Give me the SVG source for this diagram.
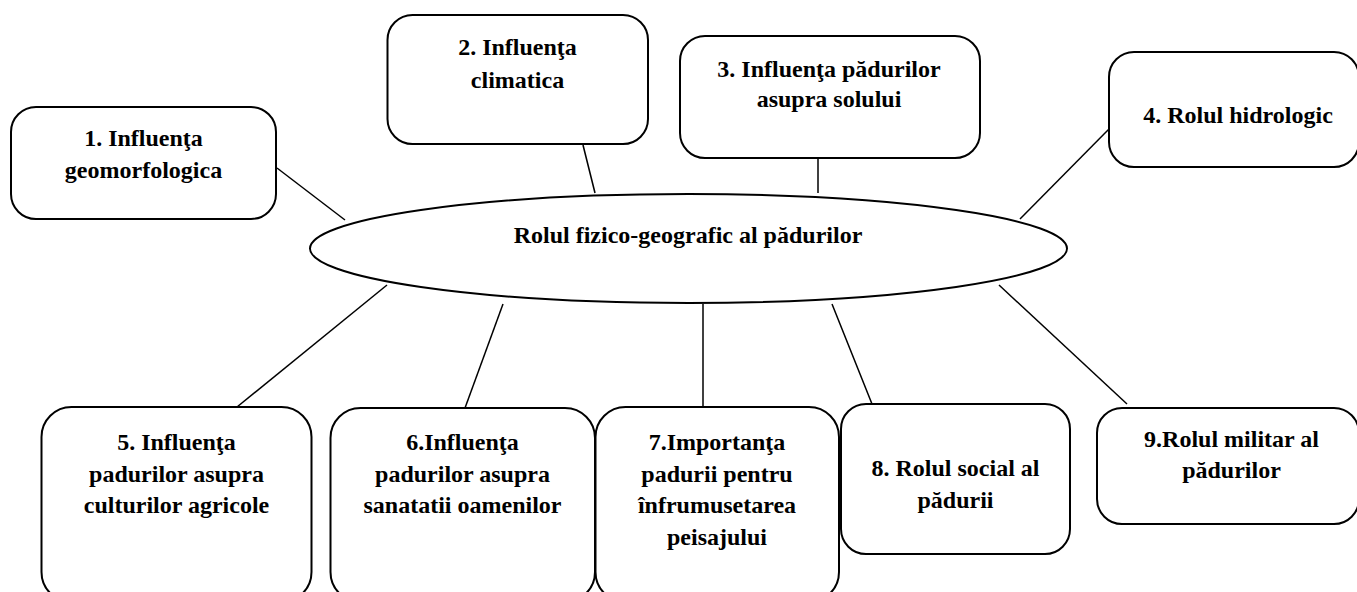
<svg xmlns="http://www.w3.org/2000/svg" width="1357" height="592" viewBox="0 0 1357 592">
<style>
.box{fill:#fff;stroke:#000;stroke-width:2}
.t{font-family:"Liberation Serif","Times New Roman",serif;font-weight:bold;font-size:24px;text-anchor:middle;fill:#000}
.c{stroke:#000;stroke-width:1.5;fill:none}
</style>
<rect width="1357" height="592" fill="#fff"/>
<g id="connectors">
<line class="c" x1="277" y1="168" x2="345" y2="220"/>
<line class="c" x1="583" y1="145" x2="595" y2="193"/>
<line class="c" x1="818" y1="159" x2="818" y2="193"/>
<line class="c" x1="1109" y1="129" x2="1020" y2="219"/>
<line class="c" x1="387" y1="285" x2="237" y2="407"/>
<line class="c" x1="503" y1="304" x2="465" y2="408"/>
<line class="c" x1="703" y1="304" x2="703" y2="407"/>
<line class="c" x1="832" y1="304" x2="872" y2="404"/>
<line class="c" x1="999" y1="285" x2="1127" y2="404"/>
</g>
<g id="center">
<ellipse class="box" cx="688.5" cy="248.5" rx="378.5" ry="54.5"/>
<text class="t" x="688" y="243">Rolul fizico-geografic al pădurilor</text>
</g>
<g id="n1">
<rect class="box" x="11" y="107" width="265" height="112" rx="25" ry="25"/>
<text class="t" x="143.5" y="146">1. Influenţa</text>
<text class="t" x="143.5" y="178">geomorfologica</text>
</g>
<g id="n2">
<rect class="box" x="387.5" y="15" width="260.5" height="129" rx="25" ry="25"/>
<text class="t" x="517.5" y="55">2. Influenţa</text>
<text class="t" x="517.5" y="88">climatica</text>
</g>
<g id="n3">
<rect class="box" x="680" y="36" width="300" height="122" rx="25" ry="25"/>
<text class="t" x="829" y="77">3. Influenţa pădurilor</text>
<text class="t" x="829" y="107">asupra solului</text>
</g>
<g id="n4">
<rect class="box" x="1109" y="52" width="250" height="115" rx="25" ry="25"/>
<text class="t" x="1238" y="123">4. Rolul hidrologic</text>
</g>
<g id="n5">
<rect class="box" x="41.5" y="407" width="270" height="195" rx="30" ry="30"/>
<text class="t" x="176.5" y="450">5. Influenţa</text>
<text class="t" x="176.5" y="482">padurilor asupra</text>
<text class="t" x="176.5" y="513">culturilor agricole</text>
</g>
<g id="n6">
<rect class="box" x="330.5" y="408" width="264.5" height="194" rx="30" ry="30"/>
<text class="t" x="462.5" y="450">6.Influenţa</text>
<text class="t" x="462.5" y="482">padurilor asupra</text>
<text class="t" x="462.5" y="513">sanatatii oamenilor</text>
</g>
<g id="n7">
<rect class="box" x="595.5" y="407" width="243.5" height="195" rx="30" ry="30"/>
<text class="t" x="717" y="450">7.Importanţa</text>
<text class="t" x="717" y="482">padurii pentru</text>
<text class="t" x="717" y="513">înfrumusetarea</text>
<text class="t" x="717" y="545">peisajului</text>
</g>
<g id="n8">
<rect class="box" x="841" y="404" width="229" height="150" rx="25" ry="25"/>
<text class="t" x="955.5" y="476">8. Rolul social al</text>
<text class="t" x="955.5" y="508">pădurii</text>
</g>
<g id="n9">
<rect class="box" x="1097" y="408" width="262" height="116" rx="25" ry="25"/>
<text class="t" x="1231.5" y="447">9.Rolul militar al</text>
<text class="t" x="1231.5" y="478">pădurilor</text>
</g>
</svg>
